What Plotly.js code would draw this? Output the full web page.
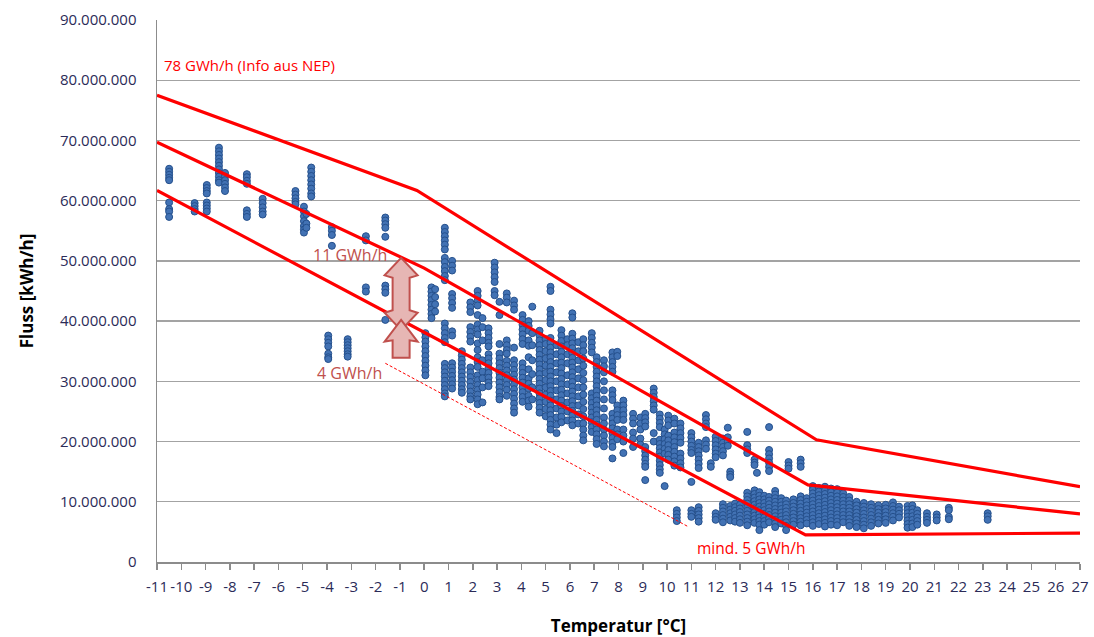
<!DOCTYPE html>
<html>
<head>
<meta charset="utf-8">
<script src="https://cdn.plot.ly/plotly-3.0.1.min.js"></script>
<style>html,body{margin:0;padding:0;background:#fff;}#chart{width:1094px;height:637px;}</style>
</head>
<body>
<div id="chart"></div>
<script>
// ---- Data (flow in million kWh/h, temperature in °C) ----
const columnTemperature = [
  -10.5, -9.45, -8.95, -8.45, -8.2, -7.3, -6.65, -5.3, -4.95, -4.85, -4.65, -3.8, -3.95, -3.15, -2.4, -1.6,
  0.05, 0.3, 0.45, 0.85, 1.15, 1.55, 1.9, 2.2, 2.4, 2.65, 2.9, 3.1, 3.4, 3.7, 4.05, 4.3, 4.45, 4.75, 5.0,
  5.2, 5.45, 5.65, 5.9, 6.1, 6.35, 6.55, 6.9, 7.1, 7.4, 7.75, 7.95, 8.2, 8.6, 8.9, 9.1, 9.45, 9.7, 9.9,
  10.05, 10.3, 10.4, 10.55, 11.0, 11.3, 11.6, 11.8, 12.0, 12.3, 12.5, 12.6, 12.8, 13.0, 13.3, 13.6, 13.7,
  13.8, 14.0, 14.2, 14.45, 14.7, 14.9, 15.0, 15.2, 15.5, 15.75, 16.0, 16.25, 16.5, 16.75, 17.0, 17.25,
  17.5, 17.8, 18.1, 18.4, 18.7, 19.0, 19.3, 19.55, 19.9, 20.1, 20.3, 20.7, 21.1, 21.6, 23.2
];
const columnFlow = [
  [65.3, 64.8, 64.3, 63.8, 63.4, 59.7, 58.6, 58.2, 57.3],
  [59.6, 59.1, 58.6, 58.2],
  [62.6, 62.1, 61.6, 61.2, 59.7, 59.2, 58.7, 58.2],
  [68.8, 68.2, 67.6, 67.0, 66.4, 65.8, 65.2, 64.6, 64.0, 63.4, 63.0],
  [64.6, 64.0, 63.4, 62.8, 62.2, 61.6],
  [64.4, 63.9, 63.3, 62.8, 58.4, 57.8, 57.3],
  [60.3, 59.6, 58.9, 58.2, 57.7],
  [61.6, 61.0, 60.4, 59.8, 59.4],
  [59.0, 58.2, 57.4, 56.6, 55.8, 55.2, 54.7],
  [57.8, 56.2, 55.5],
  [65.5, 64.8, 64.1, 63.4, 62.7, 62.0, 61.2, 60.7],
  [55.6, 55.0, 54.3, 52.5],
  [37.6, 37.0, 36.4, 35.8, 34.6, 34.0, 33.7],
  [37.0, 36.5, 36.0, 35.5, 35.0, 34.5, 34.1],
  [54.1, 53.4, 45.6, 44.9],
  [57.2, 56.7, 56.1, 55.5, 54.0, 45.9, 45.3, 44.7, 40.2],
  [38.0, 37.3, 36.6, 35.8, 35.0, 34.2, 33.4, 32.6, 31.8, 31.0],
  [45.6, 44.9, 44.2, 43.5, 42.7, 41.9, 41.2, 40.5],
  [45.3, 44.0, 42.8, 41.6],
  [55.5, 54.8, 54.1, 53.4, 52.7, 51.9, 50.5, 49.8, 49.0, 48.3, 47.5, 46.8, 39.6, 38.8, 38.0, 37.2, 36.5, 32.9, 32.2, 31.5, 30.8, 30.1, 29.4, 28.7, 28.0, 27.5],
  [50.0, 49.2, 48.4, 44.5, 43.8, 43.0, 42.2, 38.3, 37.6, 33.0, 32.3, 31.6, 30.9, 30.2, 29.5, 28.8],
  [35.0, 34.3, 33.6, 32.9, 32.2, 31.5, 30.8, 30.1, 29.4, 28.7, 28.1],
  [43.1, 42.3, 41.5, 39.0, 38.2, 37.4, 36.6, 32.3, 31.5, 30.7, 29.9, 29.1, 28.3, 27.5, 27.0],
  [45.0, 44.2, 43.4, 42.6, 41.0, 39.4, 38.6, 37.8, 36.3, 35.2, 34.0, 33.2, 32.4, 31.0, 30.2, 29.4, 28.6, 27.8, 27.0, 26.2],
  [40.5, 39.0, 36.8, 33.5, 31.6, 30.5, 29.0, 26.5],
  [38.8, 38.0, 37.2, 36.4, 35.8, 34.5, 33.8, 33.0, 32.2, 31.4, 30.6, 29.8, 29.2],
  [49.7, 48.9, 48.1, 47.3, 46.5, 45.0, 44.3],
  [43.2, 41.0, 36.2, 34.6, 33.8, 33.0, 32.2, 31.4, 30.6, 29.8, 29.0, 28.2, 27.4, 27.0],
  [44.6, 43.9, 43.1, 36.8, 36.0, 35.2, 34.6, 33.4, 32.6, 31.8, 31.0, 30.2, 29.4, 28.6, 27.6],
  [43.4, 42.6, 41.9, 35.6, 33.5, 32.7, 31.9, 31.1, 30.3, 29.5, 28.7, 27.9, 27.1, 26.3, 25.5, 24.8],
  [41.0, 40.2, 39.4, 38.6, 37.8, 37.0, 36.2, 33.0, 32.2, 31.4, 30.6, 29.8, 29.0, 28.2, 27.4, 26.6],
  [40.0, 39.2, 38.4, 36.8, 35.9, 34.0, 32.0, 30.5, 29.6, 28.8, 27.6, 26.8, 25.8],
  [42.4, 38.0, 36.0, 33.5, 31.2, 29.0, 27.0],
  [38.4, 37.6, 36.8, 36.0, 35.2, 34.4, 33.6, 32.8, 32.0, 31.2, 30.4, 29.6, 28.8, 28.0, 27.2, 26.4, 25.6, 24.8],
  [37.0, 36.2, 35.0, 33.8, 32.6, 31.4, 30.2, 29.0, 27.8, 26.6, 25.4, 24.2],
  [45.7, 45.0, 41.9, 41.1, 40.3, 39.6, 37.2, 36.4, 35.6, 34.8, 34.0, 33.2, 32.4, 31.6, 30.8, 30.0, 29.2, 28.4, 27.6, 26.8, 26.0, 25.2, 24.4, 23.6, 22.8, 22.0],
  [36.0, 34.5, 33.0, 31.5, 30.0, 28.5, 27.0, 25.5, 24.0, 22.8, 21.4],
  [38.5, 37.6, 36.7, 35.8, 34.9, 34.0, 33.1, 32.2, 31.3, 30.4, 29.5, 28.6, 27.7, 26.8, 25.9, 25.0, 24.1, 23.2],
  [37.0, 36.0, 34.5, 33.0, 31.0, 29.5, 28.0, 26.5, 25.0, 23.5],
  [41.3, 40.6, 37.9, 37.1, 36.3, 35.5, 34.7, 33.9, 33.1, 32.3, 31.5, 30.7, 29.9, 29.1, 28.3, 27.5, 26.7, 25.9, 25.1, 24.3, 23.5, 22.7],
  [36.5, 35.0, 33.5, 32.0, 30.5, 29.0, 27.5, 26.0, 24.5, 23.0],
  [37.0, 36.0, 35.0, 33.8, 32.6, 31.4, 30.2, 29.0, 27.8, 26.6, 25.4, 24.2, 23.0, 22.0, 21.0, 20.2],
  [38.0, 37.2, 36.4, 35.6, 34.8, 28.0, 27.2, 26.4, 25.6, 24.8, 24.0, 23.2, 22.4, 21.6],
  [34.0, 33.2, 32.4, 31.6, 30.8, 30.0, 29.2, 28.4, 27.6, 26.8, 26.0, 25.2, 24.4, 23.6, 22.8, 22.0, 21.2, 20.4, 19.6],
  [33.5, 32.5, 31.5, 30.0, 28.5, 27.0, 25.5, 24.0, 23.0, 22.0, 21.0, 20.0, 19.2],
  [34.8, 34.0, 33.2, 32.4, 31.6, 28.5, 27.7, 26.9, 24.6, 23.8, 23.0, 22.2, 21.4, 20.6, 19.8, 19.1, 17.2],
  [34.9, 34.2, 26.0, 25.2, 24.4, 23.6, 22.0, 21.2, 20.4],
  [26.8, 26.0, 25.2, 24.4, 23.6, 22.0, 21.0, 20.0, 18.1],
  [24.6, 23.8, 23.0, 21.5, 20.5, 19.1],
  [24.0, 23.0, 22.0, 20.5, 19.5],
  [24.6, 23.9, 23.2, 22.5, 19.1, 18.4, 17.7, 17.0, 16.3, 15.8, 13.6],
  [28.8, 28.1, 27.4, 26.7, 26.0, 25.3, 21.4, 20.0],
  [24.5, 23.8, 23.1, 22.4, 20.3, 19.6, 18.9, 18.2, 17.5, 16.8, 16.1, 15.4, 14.8],
  [22.0, 21.2, 20.4, 19.6, 18.8, 18.0, 12.6],
  [24.3, 23.5, 22.7, 21.0, 20.2, 19.4, 18.6, 17.8, 17.0],
  [23.8, 23.0, 21.5, 20.7, 19.9, 19.1, 18.3, 17.5, 16.7, 16.0],
  [8.6, 8.0, 7.4, 6.8],
  [23.0, 22.2, 21.4, 20.6, 19.8, 18.0, 17.2, 16.4, 15.7],
  [21.4, 20.7, 20.0, 19.3, 18.6, 18.1, 13.3, 8.6, 8.0, 7.5],
  [19.8, 19.1, 18.4, 17.7, 17.0, 16.3, 15.6, 9.1, 8.5, 7.9, 7.3, 6.7],
  [24.4, 23.7, 23.0, 22.4, 20.2, 19.5, 18.8],
  [16.4, 15.8],
  [20.8, 20.1, 19.4, 18.7, 18.0, 17.4, 8.1, 7.5, 7.0],
  [20.5, 19.8, 19.1, 18.4, 17.7, 9.6, 9.0, 8.4, 7.8, 7.2, 6.6],
  [22.3, 20.7, 20.0, 19.3],
  [15.0, 14.5, 14.1, 9.3, 8.7, 8.1, 7.5, 6.9],
  [9.7, 9.1, 8.5, 7.9, 7.3, 6.7],
  [9.5, 8.9, 8.3, 7.7, 7.1, 6.5],
  [21.6, 19.4, 18.7, 18.1, 11.5, 10.9, 10.3, 9.7, 9.1, 8.5, 7.9, 7.3, 6.7, 6.1],
  [17.0, 16.5, 16.1, 11.9, 11.3, 10.7, 10.1, 9.5, 8.9, 8.3, 7.7, 7.1, 6.5],
  [14.8],
  [11.6, 11.0, 10.4, 9.8, 9.2, 8.6, 8.0, 7.4, 6.8, 6.2, 5.3],
  [11.0, 10.4, 9.8, 9.2, 8.6, 8.0, 7.4, 6.8, 6.2],
  [22.4, 18.6, 17.9, 17.2, 16.5, 15.8, 15.1, 10.8, 10.2, 9.6, 9.0, 8.4, 7.8, 7.2, 6.6],
  [11.8, 11.2, 10.6, 10.0, 9.4, 8.8, 8.2, 7.6, 7.0, 6.4, 5.8],
  [10.6, 10.0, 9.4, 8.8, 8.2, 7.6, 7.0, 6.4],
  [10.2, 9.6, 9.0, 8.4, 7.8, 7.2, 6.6, 6.0, 5.3],
  [16.6, 16.0, 15.5],
  [10.4, 9.8, 9.2, 8.6, 8.0, 7.4, 6.8, 6.2],
  [17.0, 16.4, 15.8, 10.9, 10.3, 9.7, 9.1, 8.5, 7.9, 7.3, 6.7, 6.1],
  [10.6, 10.0, 9.4, 8.8, 8.2, 7.6, 7.0, 6.4],
  [12.6, 12.0, 11.4, 10.8, 10.2, 9.6, 9.0, 8.4, 7.8, 7.2, 6.6, 6.0],
  [12.3, 11.7, 11.1, 10.5, 9.9, 9.3, 8.7, 8.1, 7.5, 6.9, 6.3],
  [12.5, 11.9, 11.3, 10.7, 10.1, 9.5, 8.9, 8.3, 7.7, 7.1, 6.5, 5.9],
  [12.2, 11.6, 11.0, 10.4, 9.8, 9.2, 8.6, 8.0, 7.4, 6.8, 6.2],
  [12.1, 11.5, 10.9, 10.3, 9.7, 9.1, 8.5, 7.9, 7.3, 6.7, 6.1],
  [11.4, 10.8, 10.2, 9.6, 9.0, 8.4, 7.8, 7.2, 6.6],
  [10.8, 10.2, 9.6, 9.0, 8.4, 7.8, 7.2, 6.6, 6.0],
  [10.0, 9.4, 8.8, 8.2, 7.6, 7.0, 6.4, 5.8],
  [9.8, 9.2, 8.6, 8.0, 7.4, 6.8, 6.2, 5.6],
  [9.6, 9.0, 8.4, 7.8, 7.2, 6.6, 6.0],
  [9.4, 8.8, 8.2, 7.6, 7.0, 6.4],
  [9.5, 8.9, 8.3, 7.7, 7.1, 6.5],
  [9.9, 9.3, 8.7, 8.1, 7.5, 6.9],
  [9.2, 8.6, 8.0, 7.4],
  [9.3, 8.7, 8.1, 7.5, 6.9, 6.3, 5.7],
  [9.4, 8.8, 8.2, 7.6, 7.0, 6.4, 5.8],
  [8.6, 8.0, 7.4, 6.8, 6.2],
  [8.1, 7.5, 7.0, 6.5],
  [7.9, 7.4, 6.9],
  [9.0, 8.6, 7.5, 7.1],
  [8.1, 7.6, 7.0]
];

// Boundary lines (temperature °C, flow million kWh/h)
const upperTemp = [-11, -0.3, 16.15, 27];
const upperFlow = [77.5, 61.7, 20.3, 12.5];
const middleTemp = [-11, 0, 15.8, 27];
const middleFlow = [69.7, 48.8, 12.8, 8.0];
const lowerTemp = [-11, 15.7, 27];
const lowerFlow = [61.7, 4.5, 4.8];
const dashedTemp = [-1.6, 10.9];
const dashedFlow = [33.0, 5.8];

// Axis ticks
const xTickVals = [-11,-10,-9,-8,-7,-6,-5,-4,-3,-2,-1,0,1,2,3,4,5,6,7,8,9,10,11,12,13,14,15,16,17,18,19,20,21,22,23,24,25,26,27];
const xTickLabels = ["-11","-10","-9","-8","-7","-6","-5","-4","-3","-2","-1","0","1","2","3","4","5","6","7","8","9","10","11","12","13","14","15","16","17","18","19","20","21","22","23","24","25","26","27"];
const yTickVals = [0, 10, 20, 30, 40, 50, 60, 70, 80, 90];
const yTickLabels = ["0","10.000.000","20.000.000","30.000.000","40.000.000","50.000.000","60.000.000","70.000.000","80.000.000","90.000.000"];

// ---- build ----
const pointsX = [], pointsY = [];
columnTemperature.forEach((t, i) => {
  columnFlow[i].forEach(v => { pointsX.push(t); pointsY.push(v); });
});

const red = '#ff0000';
const traces = [
  { x: pointsX, y: pointsY, type: 'scatter', mode: 'markers',
    marker: { size: 7, color: '#4272b4', line: { color: '#25508c', width: 1 } }, hoverinfo: 'x+y' },
  { x: upperTemp, y: upperFlow, type: 'scatter', mode: 'lines', line: { color: red, width: 3.2 } },
  { x: middleTemp, y: middleFlow, type: 'scatter', mode: 'lines', line: { color: red, width: 3.2 } },
  { x: lowerTemp, y: lowerFlow, type: 'scatter', mode: 'lines', line: { color: red, width: 3.2 } },
  { x: dashedTemp, y: dashedFlow, type: 'scatter', mode: 'lines', line: { color: red, width: 1, dash: '3px,2px' } }
];

// double arrow decoration (data coords)
const ax = -0.95, bw = 0.35, hw = 0.68;
const topArrow = `M ${ax},50.5 L ${ax+hw},47.6 L ${ax+bw},47.2 L ${ax+bw},41.8 L ${ax+hw},41.4 L ${ax},38.5 L ${ax-hw},41.4 L ${ax-bw},41.8 L ${ax-bw},47.2 L ${ax-hw},47.6 Z`;
const bottomArrow = `M ${ax},40.2 L ${ax+hw},36.6 L ${ax+bw},36.8 L ${ax+bw},33.9 L ${ax-bw},33.9 L ${ax-bw},36.8 L ${ax-hw},36.6 Z`;

const tickFont = { family: 'Open Sans, sans-serif', size: 15, color: '#2b2b58' };
const layout = {
  width: 1094, height: 637,
  margin: { l: 157, r: 14, t: 20, b: 75 },
  paper_bgcolor: '#ffffff', plot_bgcolor: '#ffffff',
  showlegend: false,
  xaxis: {
    range: [-11, 27], tickvals: xTickVals, ticktext: xTickLabels,
    showgrid: false, zeroline: false, showline: true, linecolor: '#8c8c8c', linewidth: 1.5,
    ticks: 'outside', ticklen: 6, tickcolor: '#8c8c8c', tickwidth: 1.5,
    tickfont: tickFont, ticklabelstandoff: 4,
    title: { text: 'Temperatur [°C]', font: { family: 'Open Sans, sans-serif', size: 17, color: '#000', weight: 'bold' }, standoff: 26 },
    fixedrange: true
  },
  yaxis: {
    range: [0, 90], tickvals: yTickVals, ticktext: yTickLabels,
    showgrid: true, gridcolor: '#a3a3a3', gridwidth: 1.4, zeroline: false,
    showline: true, linecolor: '#8c8c8c', linewidth: 1.5,
    ticks: '', tickfont: tickFont, ticklabelstandoff: 16,
    title: { text: 'Fluss [kWh/h]', font: { family: 'Open Sans, sans-serif', size: 17, color: '#000', weight: 'bold' }, standoff: 22 },
    fixedrange: true
  },
  shapes: [
    { type: 'path', path: topArrow, xref: 'x', yref: 'y', fillcolor: '#e6b6b4', line: { color: '#c0504d', width: 2 }, layer: 'above' },
    { type: 'path', path: bottomArrow, xref: 'x', yref: 'y', fillcolor: '#e6b6b4', line: { color: '#c0504d', width: 2 }, layer: 'above' }
  ],
  annotations: [
    { x: -10.8, y: 82.6, xref: 'x', yref: 'y', text: '78 GWh/h (Info aus NEP)', showarrow: false, xanchor: 'left', yanchor: 'middle',
      font: { family: 'Open Sans, sans-serif', size: 15, color: red } },
    { x: -3.05, y: 51.0, xref: 'x', yref: 'y', text: '11 GWh/h', showarrow: false, xanchor: 'center', yanchor: 'middle',
      font: { family: 'Open Sans, sans-serif', size: 16, color: '#c0504d' } },
    { x: -3.08, y: 31.4, xref: 'x', yref: 'y', text: '4 GWh/h', showarrow: false, xanchor: 'center', yanchor: 'middle',
      font: { family: 'Open Sans, sans-serif', size: 16, color: '#c0504d' } },
    { x: 13.46, y: 2.3, xref: 'x', yref: 'y', text: 'mind. 5 GWh/h', showarrow: false, xanchor: 'center', yanchor: 'middle',
      font: { family: 'Open Sans, sans-serif', size: 15.5, color: red } }
  ]
};

Plotly.newPlot('chart', traces, layout, { displayModeBar: false, staticPlot: true });
</script>
</body>
</html>
